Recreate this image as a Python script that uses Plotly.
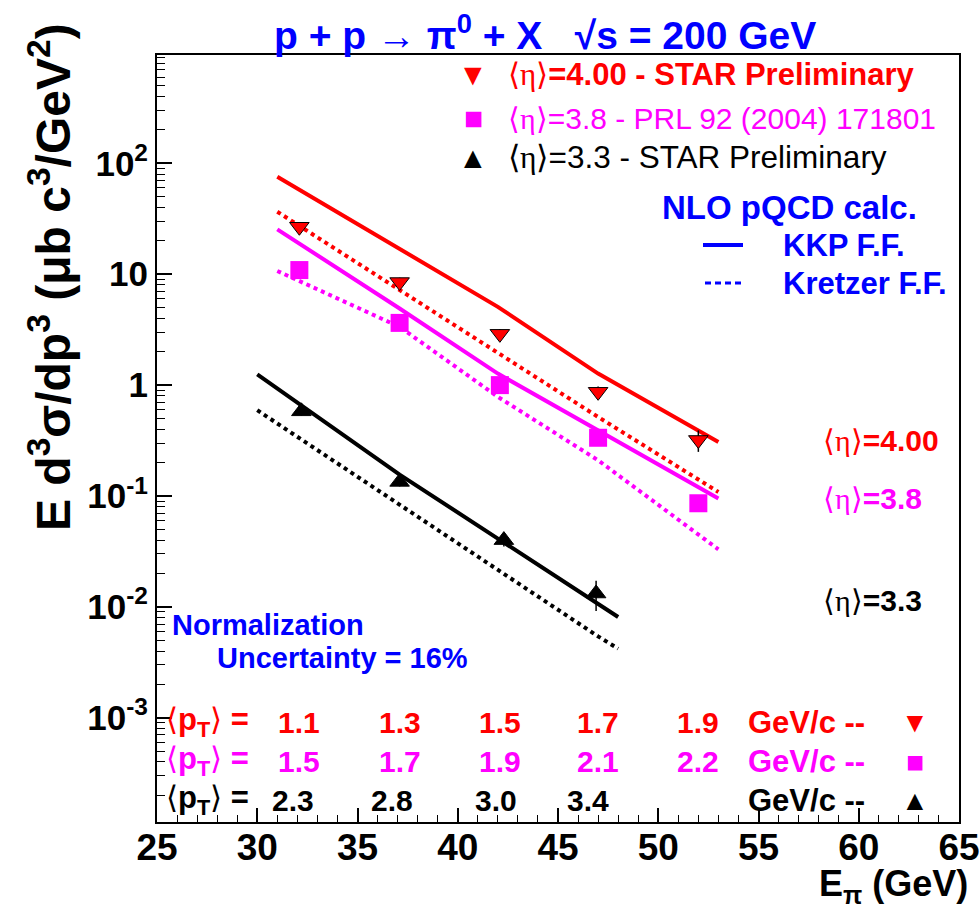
import plotly.graph_objects as go

# ---------------- data ----------------
# STAR <eta>=4.00 (red, down triangles)
e_red = [32.1, 37.1, 42.1, 47.0, 52.0]
v_red = [26.8, 8.5, 2.9, 0.87, 0.32]
err_red = [2.5, 0.8, 0.3, 0.1, 0.07]
pt_red = ["1.1", "1.3", "1.5", "1.7", "1.9"]

# PRL 92 <eta>=3.8 (magenta squares)
e_mag = [32.1, 37.1, 42.1, 47.0, 52.0]
v_mag = [10.9, 3.64, 1.0, 0.335, 0.086]
err_mag = [1.5, 0.4, 0.1, 0.04, 0.012]
pt_mag = ["1.5", "1.7", "1.9", "2.1", "2.2"]

# STAR <eta>=3.3 (black up triangles)
e_blk = [32.2, 37.1, 42.3, 46.9]
v_blk = [0.58, 0.134, 0.040, 0.0132]
err_blk = [0.05, 0.012, 0.005, 0.004]
pt_blk = ["2.3", "2.8", "3.0", "3.4"]

# NLO pQCD curves
kkp_red_e = [31.0, 37.1, 42.0, 47.0, 53.0]
kkp_red_v = [75.7, 17.1, 5.08, 1.27, 0.307]
kre_red_e = [31.0, 37.1, 42.0, 47.0, 53.0]
kre_red_v = [36.6, 7.2, 1.93, 0.516, 0.1086]

kkp_mag_e = [31.0, 37.1, 42.0, 47.0, 53.0]
kkp_mag_v = [25.4, 4.91, 1.27, 0.392, 0.095]
kre_mag_e = [31.0, 37.1, 42.0, 47.0, 53.0]
kre_mag_v = [10.7, 3.35, 0.784, 0.21, 0.033]

kkp_blk_e = [30.0, 37.1, 42.0, 47.0, 48.0]
kkp_blk_v = [1.25, 0.156, 0.0413, 0.0105, 0.0081]
kre_blk_e = [30.0, 37.1, 42.0, 47.0, 48.0]
kre_blk_v = [0.594, 0.0841, 0.0213, 0.00542, 0.0042]

x_ticks = [25, 30, 35, 40, 45, 50, 55, 60, 65]
y_tickvals = [1e-3, 1e-2, 1e-1, 1, 10, 100]
y_ticktext = ["10<sup>-3</sup>", "10<sup>-2</sup>", "10<sup>-1</sup>", "1", "10", "10<sup>2</sup>"]

RED = "#ff0000"
MAG = "#ff00ff"
BLK = "#000000"
BLUE = "#0000ff"
FONT = "Liberation Sans, Arial, Helvetica, sans-serif"
SERIF = "Liberation Serif"

# ---------------- layout geometry (pixels) ----------------
W_, H_ = 980, 911
L, R, T, B = 157, 959, 55, 822


def pxx(x):
    return (x - L) / (R - L)


def pxy(y):
    return (B - y) / (B - T)


fig = go.Figure()

# curves
for ex, vy, col, dash in [
    (kkp_red_e, kkp_red_v, RED, "solid"),
    (kre_red_e, kre_red_v, RED, "dot"),
    (kkp_mag_e, kkp_mag_v, MAG, "solid"),
    (kre_mag_e, kre_mag_v, MAG, "dot"),
    (kkp_blk_e, kkp_blk_v, BLK, "solid"),
    (kre_blk_e, kre_blk_v, BLK, "dot"),
]:
    fig.add_trace(go.Scatter(x=ex, y=vy, mode="lines",
                             line=dict(color=col, width=4, dash=dash),
                             showlegend=False, hoverinfo="skip"))

# data points
for ex, vy, er, col, sym, size in [
    (e_red, v_red, err_red, RED, "triangle-down", 17),
    (e_mag, v_mag, err_mag, MAG, "square", 18),
    (e_blk, v_blk, err_blk, BLK, "triangle-up", 17),
]:
    fig.add_trace(go.Scatter(
        x=ex, y=vy, mode="markers",
        marker=dict(symbol=sym, size=size, color=col,
                    line=dict(color="black", width=1 if col != MAG else 0)),
        error_y=dict(type="data", array=er, visible=True, color="black",
                     thickness=1.5, width=0),
        showlegend=False))

ann = []


def eta(txt_rest, col, size, x, y, bold=True, xanchor="left"):
    rest = f"<b>{txt_rest}</b>" if bold else txt_rest
    t = (f'<span style="font-family:{SERIF};font-weight:normal">\u27e8\u03b7\u27e9</span>'
         + rest)
    ann.append(dict(x=pxx(x), y=pxy(y), xref="paper", yref="paper", text=t,
                    showarrow=False, xanchor=xanchor, yanchor="middle",
                    font=dict(family=FONT, size=size, color=col)))


def txt(t, col, size, x, y, xanchor="left", bold=True, **kw):
    ann.append(dict(x=pxx(x), y=pxy(y), xref="paper", yref="paper",
                    text=f"<b>{t}</b>" if bold else t, showarrow=False,
                    xanchor=xanchor, yanchor="middle",
                    font=dict(family=FONT, size=size, color=col), **kw))


# Title
txt("p + p \u2192 \u03c0<sup>0</sup> + X\u00a0\u00a0 \u221as = 200 GeV", BLUE, 39, 545, 33,
    xanchor="center")

# Legend
txt("\u25bc", RED, 30, 473, 75, xanchor="center", bold=False)
txt("\u25a0", MAG, 32, 473, 118, xanchor="center", bold=False)
txt("\u25b2", BLK, 30, 473, 157, xanchor="center", bold=False)
eta("=4.00 - STAR Preliminary", RED, 31, 506, 75, bold=True)
eta("=3.8 - PRL 92 (2004) 171801", MAG, 30, 506, 118, bold=False)
eta("=3.3 - STAR Preliminary", BLK, 31.5, 506, 157, bold=False)
txt("NLO pQCD calc.", BLUE, 33, 660, 207)
txt("KKP F.F.", BLUE, 31, 781, 245)
txt("Kretzer F.F.", BLUE, 31, 781, 283)

# right side labels
eta("=4.00", RED, 30, 821, 440)
eta("=3.8", MAG, 30, 821, 498)
eta("=3.3", BLK, 30, 821, 600)

# normalization
txt("Normalization", BLUE, 29, 170, 625)
txt("Uncertainty = 16%", BLUE, 29, 215, 658)

# pT rows
PT_LBL = (f'<span style="font-family:{SERIF};font-weight:normal">\u27e8</span>'
          f'<b>p<sub>T</sub></b>'
          f'<span style="font-family:{SERIF};font-weight:normal">\u27e9</span><b> =</b>')
for rowy, col, vals, es, mk, shift in [
    (722, RED, pt_red, e_red, "\u25bc", 0),
    (761, MAG, pt_mag, e_mag, "\u25a0", 0),
    (800, BLK, pt_blk, e_blk, "\u25b2", -8),
]:
    ann.append(dict(x=pxx(164), y=pxy(rowy), xref="paper", yref="paper", text=PT_LBL,
                    showarrow=False, xanchor="left", yanchor="middle",
                    font=dict(family=FONT, size=31, color=col)))
    for v, e in zip(vals, es):
        ann.append(dict(x=e, y=pxy(rowy), xref="x", yref="paper", text=f"<b>{v}</b>",
                        showarrow=False, xanchor="center", yanchor="middle", xshift=shift,
                        font=dict(family=FONT, size=30, color=col)))
    txt("GeV/c --", col, 31, 746, rowy)
    txt(mk, col, 28 if mk != "\u25a0" else 30, 915, rowy, xanchor="center", bold=False)

# axis titles
ann.append(dict(x=pxx(50), y=pxy(277), xref="paper", yref="paper",
                text="<b>E d<sup>3</sup>\u03c3/dp<sup>3</sup> (\u03bcb c<sup>3</sup>/GeV<sup>2</sup>)</b>",
                textangle=-90, showarrow=False, xanchor="center", yanchor="middle",
                font=dict(family=FONT, size=48, color="black")))
ann.append(dict(x=pxx(970), y=pxy(886), xref="paper", yref="paper",
                text="<b>E<sub>\u03c0</sub> (GeV)</b>", showarrow=False,
                xanchor="right", yanchor="middle",
                font=dict(family=FONT, size=36, color="black")))

shapes = [
    dict(type="line", xref="paper", yref="paper", x0=pxx(703), x1=pxx(743),
         y0=pxy(245), y1=pxy(245), line=dict(color=BLUE, width=4)),
    dict(type="line", xref="paper", yref="paper", x0=pxx(705), x1=pxx(743),
         y0=pxy(283), y1=pxy(283), line=dict(color=BLUE, width=3, dash="6px,4px")),
]

fig.update_layout(
    width=W_, height=H_,
    margin=dict(l=L, r=W_ - R, t=T, b=H_ - B, autoexpand=False),
    paper_bgcolor="white", plot_bgcolor="white",
    annotations=ann, shapes=shapes, showlegend=False,
    xaxis=dict(range=[25, 65], tickvals=x_ticks, ticks="inside", ticklen=14,
               tickwidth=1.5, tickcolor="black", showgrid=False, zeroline=False,
               showline=True, linecolor="black", linewidth=2, mirror=True,
               automargin=False, ticklabeloverflow="allow", ticklabelstandoff=-8,
               tickfont=dict(family=FONT, size=37, color="black", weight="bold"),
               minor=dict(dtick=1, ticks="inside", ticklen=7, tickcolor="black",
                          tickwidth=1, showgrid=False)),
    yaxis=dict(type="log", range=[-3.94, 2.977], tickmode="array",
               tickvals=y_tickvals, ticktext=y_ticktext, ticks="inside", ticklen=15,
               tickwidth=1.5, tickcolor="black", showgrid=False, zeroline=False,
               showline=True, linecolor="black", linewidth=2, mirror=True,
               automargin=False,
               tickfont=dict(family=FONT, size=35, color="black", weight="bold"),
               minor=dict(dtick="D1", ticks="inside", ticklen=8, tickcolor="black",
                          tickwidth=1, showgrid=False)),
)

fig.write_html("out.html", config={"displayModeBar": False},
               post_script="document.body.style.margin='0';document.body.style.overflow='hidden';")
